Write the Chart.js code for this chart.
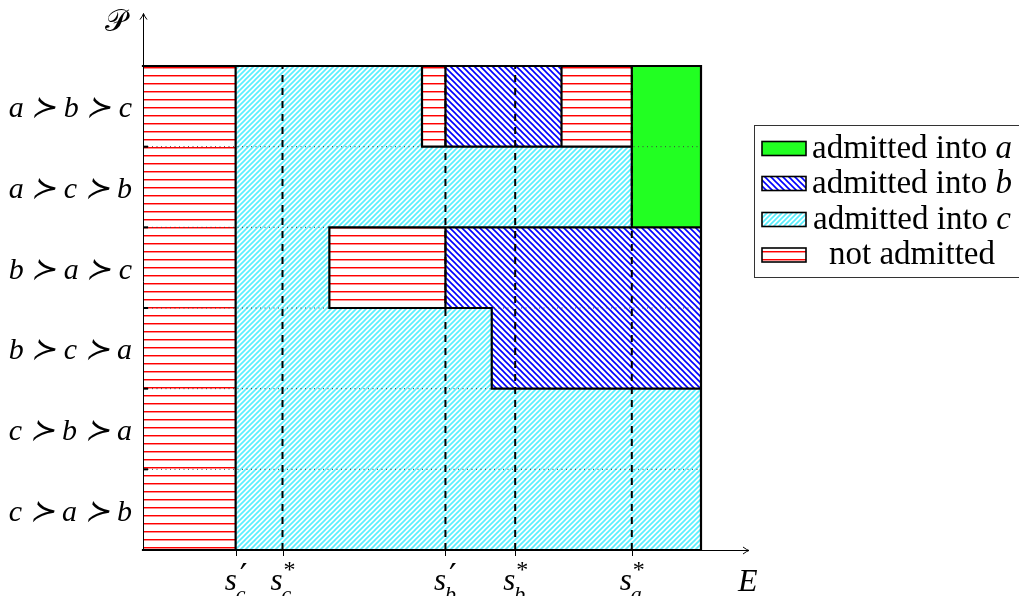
<!DOCTYPE html>
<html>
<head>
<meta charset="utf-8">
<script src="https://cdn.jsdelivr.net/npm/chart.js@4/dist/chart.umd.min.js"></script>
<style>
  html, body { margin: 0; padding: 0; background: #fff; }
  #wrap { width: 1019px; height: 596px; position: relative; }
</style>
</head>
<body>
<div id="wrap"><canvas id="admissions"></canvas></div>
<script>
// Preference orders, listed from the bottom row up to the top row
const preferenceOrders = ['c ≻ a ≻ b', 'c ≻ b ≻ a', 'b ≻ c ≻ a', 'b ≻ a ≻ c', 'a ≻ c ≻ b', 'a ≻ b ≻ c'];

// Score cutoffs on the E axis: value, superscript mark, school subscript
const cutoffValues  = [16.6, 25, 54.2, 66.7, 87.6];
const cutoffMarks   = ['′', '*', '′', '*', '*'];
const cutoffSchools = ['c', 'c', 'b', 'b', 'a'];
// Cutoffs drawn as dashed guide lines through the whole diagram
const dashedCutoffs = [25, 54.2, 66.7, 87.6];
const scoreMax = 100;

// Outcome regions: [row, scoreFrom, scoreTo]
const admittedA   = [[4, 87.6, 100], [5, 87.6, 100]];
const admittedB   = [[2, 62.5, 100], [3, 54.2, 100], [5, 54.2, 75]];
const admittedC   = [[0, 16.6, 100], [1, 16.6, 100], [2, 16.6, 62.5], [3, 16.6, 33.4], [4, 16.6, 87.6], [5, 16.6, 50]];
const notAdmitted = [[0, 0, 16.6], [1, 0, 16.6], [2, 0, 16.6], [3, 0, 16.6], [3, 33.4, 54.2],
                     [4, 0, 16.6], [5, 0, 16.6], [5, 50, 54.2], [5, 75, 87.6]];

// Legend texts: upright part, italic school letter
const legendTexts = [['admitted into ', 'a'], ['admitted into ', 'b'], ['admitted into ', 'c'], ['not admitted', '']];

const rowCount = preferenceOrders.length;
const serif = '"Liberation Serif", "DejaVu Serif", serif';

// ---- fill patterns -------------------------------------------------------
function makePattern(size, draw) {
  const c = document.createElement('canvas');
  c.width = c.height = size;
  const g = c.getContext('2d');
  g.fillStyle = '#fff';
  g.fillRect(0, 0, size, size);
  draw(g, size);
  return g.createPattern(c, 'repeat');
}
const greenFill = '#22ff22';
const blueFill = makePattern(6, (g, s) => {
  g.strokeStyle = '#0000ff'; g.lineWidth = 1.6;
  g.beginPath();
  g.moveTo(0, 0); g.lineTo(s, s);
  g.moveTo(-1, s - 1); g.lineTo(1, s + 1);
  g.moveTo(s - 1, -1); g.lineTo(s + 1, 1);
  g.stroke();
});
const cyanFill = makePattern(5, (g, s) => {
  g.strokeStyle = 'rgb(90,240,255)'; g.lineWidth = 1.7;
  g.beginPath();
  g.moveTo(0, s); g.lineTo(s, 0);
  g.moveTo(-1, 1); g.lineTo(1, -1);
  g.moveTo(s - 1, s + 1); g.lineTo(s + 1, s - 1);
  g.stroke();
});
const redFill = makePattern(8, (g, s) => {
  g.fillStyle = '#ff0000';
  g.fillRect(0, 3, s, 1);
  g.fillStyle = 'rgba(255,0,0,0.45)';
  g.fillRect(0, 4, s, 1);
});

const outcomeClasses = [notAdmitted, admittedC, admittedB, admittedA];
const outcomeFills   = [redFill, cyanFill, blueFill, greenFill];
const legendFills    = [greenFill, blueFill, cyanFill, redFill];

// ---- region outlines, derived from where neighbouring outcomes differ -----
function rowSegments(r) {
  const segs = [];
  outcomeClasses.forEach((list, ci) => list.forEach(([row, a, b]) => { if (row === r) segs.push({ a, b, ci }); }));
  return segs.sort((p, q) => p.a - q.a);
}
function classAt(r, v) {
  if (r < 0 || r >= rowCount || v < 0 || v > scoreMax) return -1;
  const s = rowSegments(r).find(s => s.a <= v && v < s.b);
  return s ? s.ci : -1;
}
function buildOutline() {
  const pts = [];
  const push = (x1, y1, x2, y2) => pts.push({ x: x1, y: y1 }, { x: x2, y: y2 }, { x: null, y: null });
  // horizontal boundaries between rows
  for (let k = 0; k <= rowCount; k++) {
    const bps = new Set([0, scoreMax]);
    [k - 1, k].forEach(r => { if (r >= 0 && r < rowCount) rowSegments(r).forEach(s => { bps.add(s.a); bps.add(s.b); }); });
    const xs = [...bps].sort((p, q) => p - q);
    let start = null, end = null;
    for (let i = 0; i < xs.length - 1; i++) {
      const m = (xs[i] + xs[i + 1]) / 2;
      if (classAt(k - 1, m) !== classAt(k, m)) {
        if (start === null) start = xs[i];
        end = xs[i + 1];
      } else if (start !== null) { push(start, k, end, k); start = null; }
    }
    if (start !== null) push(start, k, end, k);
  }
  // vertical boundaries inside each row, merged across rows
  const vertical = new Map();
  for (let r = 0; r < rowCount; r++) {
    rowSegments(r).forEach(s => {
      [s.a, s.b].forEach(v => {
        if (v <= 0) return;
        if (classAt(r, v - 1e-6) !== classAt(r, v + 1e-6)) {
          if (!vertical.has(v)) vertical.set(v, new Set());
          vertical.get(v).add(r);
        }
      });
    });
  }
  vertical.forEach((rows, v) => {
    const rs = [...rows].sort((p, q) => p - q);
    let from = rs[0], prev = rs[0];
    for (let i = 1; i <= rs.length; i++) {
      if (i < rs.length && rs[i] === prev + 1) { prev = rs[i]; continue; }
      push(v, from, v, prev + 1);
      if (i < rs.length) { from = rs[i]; prev = rs[i]; }
    }
  });
  return pts;
}

const rowSeparators = [];
for (let k = 1; k < rowCount; k++) rowSeparators.push({ x: 0, y: k }, { x: scoreMax, y: k }, { x: null, y: null });
const guideLines = [];
dashedCutoffs.forEach(v => guideLines.push({ x: v, y: 0 }, { x: v, y: rowCount }, { x: null, y: null }));

const regionDatasets = outcomeClasses.map((list, i) => ({
  type: 'bar',
  label: ['not admitted', 'admitted into c', 'admitted into b', 'admitted into a'][i],
  data: list.map(([row, a, b]) => ({ x: [a, b], y: row + 0.5 })),
  backgroundColor: outcomeFills[i],
  borderWidth: 0,
  grouped: false,
  barPercentage: 1,
  categoryPercentage: 1,
  indexAxis: 'y',
  order: 10
}));

const lineCommon = { type: 'line', indexAxis: 'x', pointRadius: 0, fill: false, spanGaps: false, tension: 0 };

// ---- axes, labels and legend ---------------------------------------------
const axisExtentE = 108.6;
const axisExtentP = 6.65;

function drawItalicScript(ctx, px, base, sup, sub) {
  const isPrime = sup === '′';
  const supFont = isPrime ? '34px "DejaVu Sans", sans-serif' : `24px ${serif}`;
  ctx.font = `italic 31px ${serif}`;
  const ws = ctx.measureText(base).width;
  ctx.font = supFont;
  const wsup = ctx.measureText(sup).width;
  ctx.font = `italic 22px ${serif}`;
  const wsub = ctx.measureText(sub).width;
  const total = ws + Math.max(wsup, wsub);
  const left = px - total / 2;
  ctx.textAlign = 'left';
  ctx.textBaseline = 'alphabetic';
  ctx.font = `italic 31px ${serif}`;
  ctx.fillText(base, left, 590);
  ctx.font = supFont;
  ctx.fillText(sup, left + ws + (isPrime ? 3 : 1), isPrime ? 588 : 577);
  ctx.font = `italic 22px ${serif}`;
  ctx.fillText(sub, left + ws - 1, 601);
}

const decorations = {
  id: 'decorations',
  beforeDraw(chart) {
    const { ctx, width, height } = chart;
    ctx.save();
    ctx.fillStyle = '#fff';
    ctx.fillRect(0, 0, width, height);
    ctx.restore();
  },
  afterDraw(chart) {
    const { ctx, scales: { x, y } } = chart;
    const x0 = x.getPixelForValue(0);
    const y0 = y.getPixelForValue(0);
    const xTip = x.getPixelForValue(axisExtentE);
    const yTip = y.getPixelForValue(axisExtentP);
    ctx.save();
    ctx.strokeStyle = '#000';
    ctx.lineWidth = 1;
    // axis lines with arrow heads
    ctx.beginPath();
    ctx.moveTo(x0 + 0.5, y0); ctx.lineTo(x0 + 0.5, yTip);
    ctx.moveTo(x0, y0 + 0.5); ctx.lineTo(xTip, y0 + 0.5);
    ctx.stroke();
    ctx.beginPath();
    ctx.moveTo(x0 - 3, yTip + 6); ctx.quadraticCurveTo(x0, yTip + 2, x0 + 0.5, yTip);
    ctx.quadraticCurveTo(x0 + 1, yTip + 2, x0 + 4, yTip + 6);
    ctx.moveTo(xTip - 6, y0 - 3); ctx.quadraticCurveTo(xTip - 2, y0, xTip, y0 + 0.5);
    ctx.quadraticCurveTo(xTip - 2, y0 + 1, xTip - 6, y0 + 4);
    ctx.stroke();
    // tick marks
    cutoffValues.forEach(v => {
      const px = Math.round(x.getPixelForValue(v)) + 0.5;
      ctx.beginPath(); ctx.moveTo(px, y0); ctx.lineTo(px, y0 + 6); ctx.stroke();
    });
    ctx.lineWidth = 2;
    for (let k = 1; k < rowCount; k++) {
      const py = y.getPixelForValue(k);
      ctx.beginPath(); ctx.moveTo(x0, py); ctx.lineTo(x0 + 5, py); ctx.stroke();
    }
    // preference order labels
    ctx.fillStyle = '#000';
    ctx.textAlign = 'right';
    ctx.textBaseline = 'alphabetic';
    ctx.font = `italic 30px ${serif}`;
    preferenceOrders.forEach((label, r) => {
      ctx.fillText(label, x0 - 11, y.getPixelForValue(r + 0.5) + 11);
    });
    // cutoff labels
    cutoffValues.forEach((v, i) => drawItalicScript(ctx, x.getPixelForValue(v), 's', cutoffMarks[i], cutoffSchools[i]));
    // axis names
    ctx.textAlign = 'left';
    ctx.font = `italic 32px ${serif}`;
    ctx.fillText('E', xTip - 11, 591);
    ctx.font = `30px ${serif}`;
    ctx.fillText('𝒫', x0 - 38, 31);
    // legend
    ctx.lineWidth = 1;
    ctx.strokeStyle = '#333';
    ctx.strokeRect(754.5, 125.5, 280, 152);
    const rowsY = [148.5, 183.5, 219.5, 255];
    legendTexts.forEach(([plain, ital], i) => {
      const cy = rowsY[i];
      ctx.fillStyle = legendFills[i];
      ctx.fillRect(762, cy - 7, 44, 14);
      ctx.lineWidth = 1.6;
      ctx.strokeStyle = '#000';
      ctx.strokeRect(762, cy - 7, 44, 14);
      ctx.fillStyle = '#000';
      ctx.font = `33px ${serif}`;
      const w1 = ctx.measureText(plain).width;
      ctx.font = `italic 33px ${serif}`;
      const w2 = ctx.measureText(ital).width;
      const start = 912 - (w1 + w2) / 2;
      ctx.textAlign = 'left';
      ctx.font = `33px ${serif}`;
      ctx.fillText(plain, start, cy + 9);
      ctx.font = `italic 33px ${serif}`;
      ctx.fillText(ital, start + w1, cy + 9);
    });
    ctx.restore();
  }
};

new Chart(document.getElementById('admissions'), {
  type: 'bar',
  data: {
    datasets: [
      { ...lineCommon, label: 'outline', data: buildOutline(), borderColor: '#000', borderWidth: 2.2,
        borderCapStyle: 'square', borderJoinStyle: 'miter', order: 1, clip: false },
      { ...lineCommon, label: 'cutoffs', data: guideLines, borderColor: '#000', borderWidth: 2,
        borderDash: [7, 6], order: 2 },
      { ...lineCommon, label: 'rows', data: rowSeparators, borderColor: '#444', borderWidth: 1,
        borderDash: [1, 3.5], order: 3 },
      ...regionDatasets
    ]
  },
  options: {
    responsive: true,
    maintainAspectRatio: false,
    animation: false,
    indexAxis: 'y',
    layout: { padding: { left: 143, right: 318, top: 66, bottom: 46 } },
    plugins: { legend: { display: false }, tooltip: { enabled: false } },
    scales: {
      x: { type: 'linear', min: 0, max: scoreMax, display: false, offset: false, grid: { offset: false } },
      y: { type: 'linear', min: 0, max: rowCount, display: false, offset: false, grid: { offset: false },
           ticks: { stepSize: 1 } }
    }
  },
  plugins: [decorations]
});
</script>
</body>
</html>
